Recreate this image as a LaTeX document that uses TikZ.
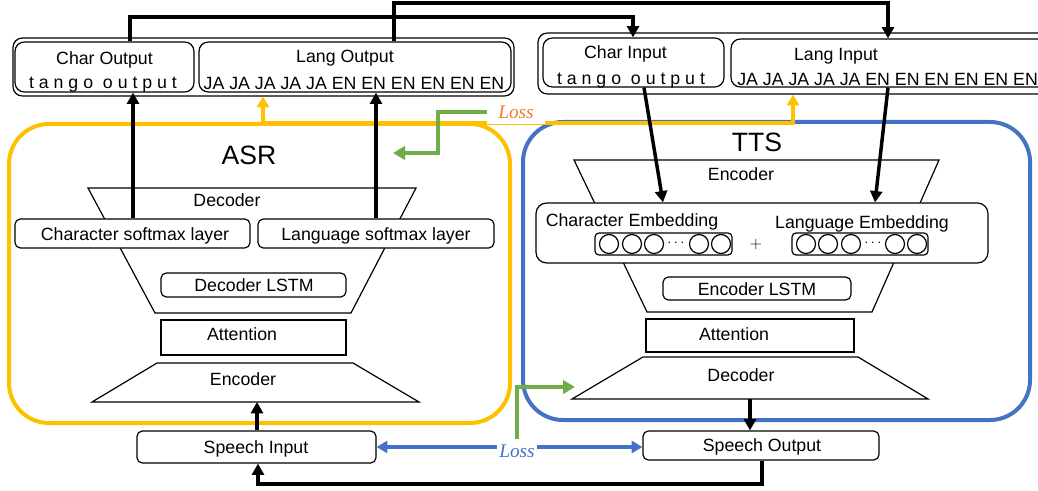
\documentclass[tikz,border=0pt]{standalone}
\usepackage{fontspec}
\setmainfont{Liberation Sans}
\newfontfamily\lossfont{Liberation Serif}
\usetikzlibrary{arrows.meta,fit}

\definecolor{asryellow}{HTML}{FFC000}
\definecolor{ttsblue}{HTML}{4472C4}
\definecolor{lossgreen}{HTML}{70AD47}
\definecolor{lossorange}{HTML}{ED7D31}

\begin{document}
\begin{tikzpicture}[x=0.75pt,y=-0.75pt,
  lbl/.style={font=\fontsize{13.3}{15}\selectfont, inner sep=0pt, text height=9.5pt, text depth=0pt},
  biglbl/.style={font=\fontsize{19.9}{22}\selectfont, inner sep=0pt, text height=14.2pt, text depth=0pt},
  boxr/.style={draw, line width=0.9pt, inner sep=0pt, fill=white, rounded corners=#1},
  boxr/.default=4pt,
  boxs/.style={draw, line width=0.9pt, inner sep=0pt, fill=white},
  trap/.style={draw, line width=0.9pt},
  unit/.style={draw, line width=0.9pt, circle, minimum size=14.25pt, inner sep=0pt},
  blk/.style={line width=2.6pt, -{Triangle[length=8.5pt,width=9pt]}},
  yel/.style={draw=asryellow, line width=3pt, -{Triangle[length=8pt,width=9pt]}},
  grn/.style={draw=lossgreen, line width=2.4pt, -{Triangle[length=9pt,width=10pt]}},
  blu/.style={draw=ttsblue, line width=3pt, {Triangle[length=8pt,width=9pt]}-{Triangle[length=8pt,width=9pt]}},
  losslbl/.style={fill=white, inner sep=0pt, font=\lossfont\itshape\fontsize{14.5}{16}\selectfont}
]
\useasboundingbox (0,0) rectangle (1038,491);
\clip (0,0) rectangle (1038,491);

% ---------- ASR and TTS modules ----------
\node[fit={(9,124) (510,423)}, draw=asryellow, line width=3pt, rounded corners=30pt, inner sep=0pt] (asr) {};
\node[fit={(523,122) (1030,420)}, draw=ttsblue, line width=3pt, rounded corners=30pt, inner sep=0pt] (tts) {};
\node[biglbl] (asrlbl) at (249,155) {ASR};
\node[biglbl] (ttslbl) at (757,142) {TTS};

% ---------- output / input sequences ----------
\node[boxr=7pt, fit={(13,38) (514,96)}] (ob1) {};
\node[boxr=7pt, fit={(15,42) (194,92)}] (cho) {};
\node[boxr=7pt, fit={(199,42) (511,92)}] (lo) {};
\node[boxr=7pt, fit={(538,33) (1060,94)}] (ob2) {};
\node[boxr=7pt, fit={(543,38) (724,87)}] (chi) {};
\node[boxr=7pt, fit={(731,39) (1060,87)}] (li) {};

\node[lbl] (chotxt) at (104.5,58.5) {Char Output};
\node[lbl] (choseq) at (103,82.5) {t a n g o\ \ o u t p u t};
\node[lbl] (lotxt) at (345,56) {Lang Output};
\node[lbl] (loseq) at (354,83.5) {JA JA JA JA JA EN EN EN EN EN EN};
\node[lbl] (chitxt) at (625.5,52) {Char Input};
\node[lbl] (chiseq) at (631,78.5) {t a n g o\ \ o u t p u t};
\node[lbl] (litxt) at (836,54) {Lang Input};
\node[lbl, anchor=west] (liseq) at (737,79) {JA JA JA JA JA EN EN EN EN EN EN};

% ---------- ASR internals ----------
\draw[trap] (88,188) -- (416,188) -- (351,313) -- (155,313) -- cycle;
\node[lbl] (adectxt) at (227,200.5) {Decoder};
\node[boxr, fit={(15,219) (250,248)}] (csm) {};
\node[lbl] (csmtxt) at (135,234.5) {Character softmax layer};
\node[boxr, fit={(258,219) (494,248)}] (lsm) {};
\node[lbl] (lsmtxt) at (376,234.5) {Language softmax layer};
\node[boxr, fit={(161,273) (346,297)}] (dlstm) {};
\node[lbl] (dlstmtxt) at (254,285.5) {Decoder LSTM};
\node[boxs, fit={(161,320) (346,355)}] (aatt) {};
\node[lbl] (aatttxt) at (242,334) {Attention};
\draw[trap] (157,363) -- (353,363) -- (419,402) -- (92,402) -- cycle;
\coordinate (aencb) at (257,402);
\node[lbl] (aenctxt) at (243,379) {Encoder};

% ---------- TTS internals ----------
\draw[trap] (574,160) -- (939,160) -- (872,312) -- (647,312) -- cycle;
\node[lbl] (tenctxt) at (741,173.7) {Encoder};
\node[boxr=8pt, fit={(536,203) (988,263)}] (emb) {};
\node[lbl] (cembtxt) at (632,220.3) {Character Embedding};
\node[lbl] (lembtxt) at (862,222) {Language Embedding};
\node[boxr=3pt, fit={(595,233) (732,255)}] (cg1) {};
\node[boxr=3pt, fit={(792,233) (928,255)}] (cg2) {};
\foreach \cx [count=\i] in {609,632,654,699,721}
  \node[unit] (ca\i) at (\cx,244) {};
\node[inner sep=0pt, font=\fontsize{11}{12}\selectfont] (cadots) at (676,243) {$\cdots$};
\foreach \cx [count=\i] in {806,828,851,895,917}
  \node[unit] (cb\i) at (\cx,244) {};
\node[inner sep=0pt, font=\fontsize{11}{12}\selectfont] (cbdots) at (873,243) {$\cdots$};
\node[inner sep=0pt, font=\fontsize{12}{13}\selectfont] (plus) at (756,245) {$+$};
\node[boxr, fit={(663,277) (851,300)}] (elstm) {};
\node[lbl] (elstmtxt) at (757,289.3) {Encoder LSTM};
\node[boxs, fit={(646,319) (854,352)}] (tatt) {};
\node[lbl] (tatttxt) at (734,333.8) {Attention};
\draw[trap] (643,357) -- (858,357) -- (928,399) -- (572,399) -- cycle;
\coordinate (tdecb) at (750,399);
\node[lbl] (tdectxt) at (741,375.5) {Decoder};

% ---------- speech ----------
\node[boxr, fit={(137,431) (376,463)}] (si) {};
\node[lbl] (sitxt) at (256,447.5) {Speech Input};
\node[boxr, fit={(643,431) (879,460)}] (so) {};
\node[lbl] (sotxt) at (762,445) {Speech Output};

% ---------- loss connections ----------
\coordinate (yj) at (263,123);
\draw[yel] (yj) -- (ob1.south -| yj);
\draw[yel] (yj) -| (ob2.south -| 793,0);
\draw[blu] (si.east |- 0,447) -- (so.west |- 0,447);
\node[losslbl, minimum width=43.5pt, minimum height=18pt, text=lossorange] (losstop) at (516,112) {Loss};
\node[losslbl, minimum width=30pt, minimum height=18pt, text=ttsblue] (lossbot) at (517,451) {Loss};
\draw[grn] (losstop.west) -| (438,153) -- (393,153);
\draw[grn] (lossbot.north) |- (575,387);

% ---------- data flow ----------
\draw[blk] (csm.north -| 133,0) -- (cho.south -| 133,0);
\draw[blk] (lsm.north -| 376,0) -- (lo.south -| 376,0);
\draw[blk] (cho.north -| 130,0) |- (633,17) -- (chi.north -| 633,0);
\draw[blk] (lo.north -| 394,0) |- (888,3) -- (li.north -| 888,0);
\draw[blk] (chi.south -| 644,0) -- (emb.north -| 663,0);
\draw[blk] (li.south -| 888,0) -- (emb.north -| 875,0);
\draw[blk] (si.north -| aencb) -- (aencb);
\draw[blk] (tdecb) -- (so.north -| tdecb);
\draw[blk] (so.south -| 762,0) |- (258,484) -- (si.south -| 258,0);
\end{tikzpicture}
\end{document}
